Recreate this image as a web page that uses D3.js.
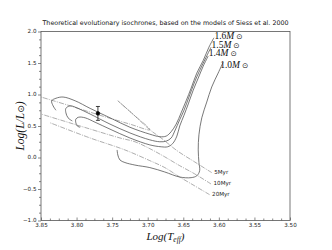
<!DOCTYPE html>
<html>
<head>
<meta charset="utf-8">
<script src="https://cdn.jsdelivr.net/npm/d3@7"></script>
<style>
body { margin: 0; background: #fff; }
svg { display: block; }
</style>
</head>
<body>
<div id="chart"></div>
<script>
// evolutionary tracks (log Teff, log L/Lsun)
var track16T = [3.607, 3.614, 3.622, 3.631, 3.639, 3.646, 3.653, 3.660, 3.667, 3.674, 3.683, 3.697, 3.725, 3.753, 3.781, 3.802, 3.819, 3.829, 3.835, 3.833, 3.829];
var track16L = [1.90, 1.75, 1.54, 1.34, 1.10, 0.90, 0.71, 0.53, 0.41, 0.34, 0.33, 0.37, 0.48, 0.63, 0.78, 0.90, 0.96, 0.94, 0.90, 0.82, 0.75];

var track15T = [3.611, 3.618, 3.627, 3.634, 3.642, 3.649, 3.655, 3.662, 3.667, 3.674, 3.683, 3.697, 3.725, 3.753, 3.781, 3.798, 3.809, 3.815, 3.815, 3.812, 3.806];
var track15L = [1.75, 1.59, 1.38, 1.20, 0.96, 0.75, 0.60, 0.42, 0.31, 0.26, 0.25, 0.28, 0.39, 0.53, 0.69, 0.78, 0.82, 0.78, 0.71, 0.63, 0.58];

var track14T = [3.615, 3.622, 3.629, 3.636, 3.643, 3.649, 3.655, 3.659, 3.665, 3.672, 3.681, 3.697, 3.725, 3.753, 3.774, 3.788, 3.797, 3.801, 3.801, 3.799, 3.795];
var track14L = [1.61, 1.45, 1.26, 1.07, 0.85, 0.67, 0.50, 0.34, 0.22, 0.17, 0.17, 0.20, 0.31, 0.45, 0.56, 0.63, 0.64, 0.61, 0.55, 0.50, 0.48];

var track10T = [3.594, 3.601, 3.610, 3.617, 3.624, 3.628, 3.629, 3.628, 3.627, 3.631, 3.639, 3.655, 3.676, 3.697, 3.718, 3.732, 3.739, 3.742, 3.743];
var track10L = [1.51, 1.34, 1.12, 0.88, 0.63, 0.36, 0.12, -0.08, -0.21, -0.29, -0.32, -0.31, -0.23, -0.16, -0.12, -0.08, -0.04, 0.04, 0.12];

var trackNames = ['1.6', '1.5', '1.4', '1.0'];

// isochrones
var iso5T = [3.610, 3.634, 3.659, 3.680, 3.697, 3.719, 3.742, 3.719, 3.697, 3.725, 3.767, 3.809, 3.850];
var iso5L = [-0.24, -0.07, 0.11, 0.30, 0.44, 0.67, 0.90, 0.67, 0.44, 0.53, 0.67, 0.82, 0.96];

var iso10T = [3.611, 3.634, 3.655, 3.676, 3.697, 3.718, 3.739, 3.795, 3.850];
var iso10L = [-0.42, -0.26, -0.13, 0.01, 0.14, 0.25, 0.31, 0.50, 0.69];

var iso20T = [3.613, 3.634, 3.655, 3.676, 3.697, 3.732, 3.781, 3.837];
var iso20L = [-0.59, -0.45, -0.31, -0.16, -0.05, 0.12, 0.31, 0.55];

var isoNames = ['5Myr', '10Myr', '20Myr'];

// the observed star
var starT = [3.770];
var starL = [0.70];
var starErr = [0.11];

var xTicks = [3.85, 3.80, 3.75, 3.70, 3.65, 3.60, 3.55, 3.50];
var yTicks = [-1.0, -0.5, 0.0, 0.5, 1.0, 1.5, 2.0];

var width = 332,
	height = 250,
	margin = {
		left: 41,
		right: 42,
		top: 31.5,
		bottom: 29.5
	};

var x = d3.scaleLinear()
	.domain([3.85, 3.50])
	.range([margin.left, width - margin.right]);

var y = d3.scaleLinear()
	.domain([-1, 2])
	.range([height - margin.bottom, margin.top]);

var svg = d3.select('#chart').append('svg')
	.attr('width', width)
	.attr('height', height);

function zip(a, b) {
	return a.map(function(v, i) { return [v, b[i]]; });
}

var line = d3.line()
	.x(function(d) { return x(d[0]); })
	.y(function(d) { return y(d[1]); })
	.curve(d3.curveCatmullRom.alpha(0.5));

var tickFont = 'DejaVu Sans, sans-serif';

// title
svg.append('text')
	.attr('x', (margin.left + width - margin.right) / 2)
	.attr('y', 25)
	.attr('text-anchor', 'middle')
	.attr('textLength', 246)
	.attr('lengthAdjust', 'spacingAndGlyphs')
	.style('font-family', tickFont)
	.style('font-size', '6.4px')
	.style('fill', '#111')
	.text('Theoretical evolutionary isochrones, based on the models of Siess et al. 2000');

// box
svg.append('rect')
	.attr('x', x(3.85))
	.attr('y', y(2))
	.attr('width', x(3.50) - x(3.85))
	.attr('height', y(-1) - y(2))
	.style('fill', 'none')
	.style('stroke', '#555')
	.style('stroke-width', 0.8);

// x axis, ticks pointing inside
var xAxis = d3.axisBottom(x)
	.tickValues(xTicks)
	.tickSize(-3)
	.tickPadding(3)
	.tickFormat(d3.format('.2f'));

var gx = svg.append('g')
	.attr('transform', 'translate(0,' + y(-1) + ')')
	.call(xAxis);

gx.selectAll('.tick')
	.filter(function(d) { return d < 3.849; })
	.append('g')
	.selectAll('line')
	.data([1, 2, 3])
	.enter().append('line')
	.attr('transform', function(k, i, n) {
		var t = d3.select(n[i].parentNode.parentNode).datum();
		return 'translate(' + (x(t + k * 0.0125) - x(t)) + ',0)';
	})
	.attr('y2', -2);

// y axis, ticks outside
var yAxis = d3.axisLeft(y)
	.tickValues(yTicks)
	.tickSize(3)
	.tickPadding(1.5)
	.tickFormat(d3.format('.1f'));

var gy = svg.append('g')
	.attr('transform', 'translate(' + x(3.85) + ',0)')
	.call(yAxis);

gy.selectAll('.tick')
	.filter(function(d) { return d < 1.99; })
	.append('g')
	.selectAll('line')
	.data([1, 2, 3])
	.enter().append('line')
	.attr('transform', function(k, i, n) {
		var t = d3.select(n[i].parentNode.parentNode).datum();
		return 'translate(0,' + (y(t + k * 0.125) - y(t)) + ')';
	})
	.attr('x2', -2);

[gx, gy].forEach(function(g) {
	g.select('.domain').remove();
	g.selectAll('line').style('stroke', '#555').style('stroke-width', 0.7);
	g.selectAll('text')
		.style('font-family', tickFont)
		.style('font-size', '5.6px')
		.style('fill', '#222');
});
gy.selectAll('.tick text').attr('dy', '0.2em');
gx.selectAll('.tick text').attr('dy', '0.6em');

// isochrones
var isochrones = [zip(iso5T, iso5L), zip(iso10T, iso10L), zip(iso20T, iso20L)];

svg.selectAll('.iso')
	.data(isochrones)
	.enter().append('path')
	.attr('class', 'iso')
	.attr('d', line)
	.style('fill', 'none')
	.style('stroke', '#777')
	.style('stroke-width', 0.6)
	.style('stroke-dasharray', '5,1.2,1,1.2');

svg.selectAll('.isoLabel')
	.data(isochrones)
	.enter().append('text')
	.attr('class', 'isoLabel')
	.attr('x', function(d) { return x(d[0][0]) + 2.5; })
	.attr('y', function(d) { return y(d[0][1]) + 1.5; })
	.style('font-family', tickFont)
	.style('font-size', '5.6px')
	.style('fill', '#222')
	.text(function(d, i) { return isoNames[i]; });

// tracks
var tracks = [zip(track16T, track16L), zip(track15T, track15L), zip(track14T, track14L), zip(track10T, track10L)];

svg.selectAll('.track')
	.data(tracks)
	.enter().append('path')
	.attr('class', 'track')
	.attr('d', line)
	.style('fill', 'none')
	.style('stroke', '#555')
	.style('stroke-width', 0.8);

// label offsets from the first point of each track
var labelDx = [0.5, 0.5, 0.5, -3],
	labelDy = [1.2, 0.7, 0.4, 6];

var massLabel = svg.selectAll('.massLabel')
	.data(tracks)
	.enter().append('text')
	.attr('class', 'massLabel')
	.attr('x', function(d, i) { return x(d[0][0]) + labelDx[i]; })
	.attr('y', function(d, i) { return y(d[0][1]) + labelDy[i]; })
	.style('font-family', 'Liberation Serif, DejaVu Serif, serif')
	.style('font-size', '9.5px')
	.style('fill', '#111');

massLabel.append('tspan').text(function(d, i) { return trackNames[i]; });
massLabel.append('tspan').style('font-style', 'italic').text('M');
massLabel.append('tspan')
	.attr('dx', 2)
	.style('font-family', 'DejaVu Sans, sans-serif')
	.style('font-size', '7.5px')
	.text('\u2299');

// star with error bar
var star = svg.selectAll('.star')
	.data(starT.map(function(t, i) { return {t: t, l: starL[i], e: starErr[i]}; }))
	.enter().append('g')
	.attr('class', 'star')
	.style('stroke', '#111')
	.style('stroke-width', 0.8);

star.append('line')
	.attr('x1', function(d) { return x(d.t); })
	.attr('x2', function(d) { return x(d.t); })
	.attr('y1', function(d) { return y(d.l - d.e); })
	.attr('y2', function(d) { return y(d.l + d.e); });

[-1, 1].forEach(function(s) {
	star.append('line')
		.attr('x1', function(d) { return x(d.t) - 2; })
		.attr('x2', function(d) { return x(d.t) + 2; })
		.attr('y1', function(d) { return y(d.l + s * d.e); })
		.attr('y2', function(d) { return y(d.l + s * d.e); });
});

star.append('circle')
	.attr('cx', function(d) { return x(d.t); })
	.attr('cy', function(d) { return y(d.l); })
	.attr('r', 1.8)
	.style('fill', '#000');

// axis titles
svg.append('text')
	.attr('transform', 'translate(24,' + y(0.5) + ') rotate(-90)')
	.attr('text-anchor', 'middle')
	.style('font-family', 'Liberation Serif, DejaVu Serif, serif')
	.style('font-style', 'italic')
	.style('font-size', '11.5px')
	.style('fill', '#111')
	.call(function(t) {
		t.append('tspan').text('Log(L/L');
		t.append('tspan').style('font-style', 'normal').style('font-family', 'DejaVu Sans, sans-serif').style('font-size', '9px').text('\u2299');
		t.append('tspan').text(')');
	});

svg.append('text')
	.attr('x', (x(3.70) + x(3.65)) / 2)
	.attr('y', 239.5)
	.attr('text-anchor', 'middle')
	.style('font-family', 'Liberation Serif, DejaVu Serif, serif')
	.style('font-style', 'italic')
	.style('font-size', '11px')
	.style('fill', '#111')
	.call(function(t) {
		t.append('tspan').text('Log(T');
		t.append('tspan').attr('dy', 2.5).style('font-size', '7.5px').text('eff');
		t.append('tspan').attr('dy', -2.5).text(')');
	});
</script>
</body>
</html>
